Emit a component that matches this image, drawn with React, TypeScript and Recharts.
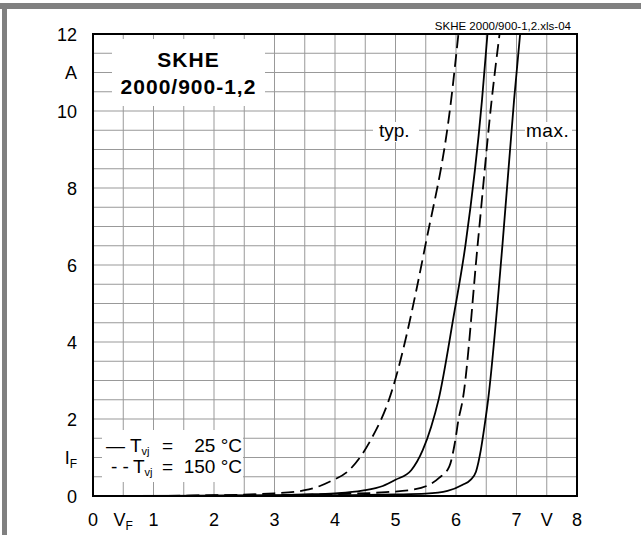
import React from 'react'
import { LineChart, Line, XAxis, YAxis, CartesianGrid, ReferenceArea } from 'recharts'

// grid every 0.5 V / 0.5 A
const gridV = [0, 0.5, 1, 1.5, 2, 2.5, 3, 3.5, 4, 4.5, 5, 5.5, 6, 6.5, 7, 7.5, 8]
const gridI = [0, 0.5, 1, 1.5, 2, 2.5, 3, 3.5, 4, 4.5, 5, 5.5, 6, 6.5, 7, 7.5, 8, 8.5, 9, 9.5, 10, 10.5, 11, 11.5, 12]

// tick labels ("_" = subscript)
const xLabelAt = [0, 0.5, 1, 2, 3, 4, 5, 6, 7, 7.5, 8]
const xLabelText = ['0', 'V_F', '1', '2', '3', '4', '5', '6', '7', 'V', '8']
const yLabelAt = [0, 1, 2, 4, 6, 8, 10, 11, 12]
const yLabelText = ['0', 'I_F', '2', '4', '6', '8', '10', 'A', '12']

// Tvj = 25 °C, typ.
const typ25V = [0.6, 2.0, 3.0, 3.5, 4.0, 4.45, 4.79, 5.0, 5.26, 5.45, 5.59, 5.71, 5.96, 6.16, 6.43, 6.52]
const typ25I = [0, 0.01, 0.02, 0.04, 0.07, 0.14, 0.26, 0.42, 0.67, 1.19, 1.8, 2.49, 4.66, 6.56, 10.29, 12]
// Tvj = 25 °C, max.
const max25V = [0.6, 3.0, 4.0, 5.0, 5.5, 5.86, 6.11, 6.24, 6.33, 6.41, 6.47, 6.53, 6.77, 6.96, 7.06]
const max25I = [0, 0.01, 0.02, 0.04, 0.06, 0.13, 0.29, 0.42, 0.63, 1.19, 1.8, 2.49, 6.56, 10.29, 12]
// Tvj = 150 °C, typ.
const typ150V = [0.6, 2.0, 3.0, 3.5, 3.75, 3.91, 4.24, 4.46, 4.62, 4.87, 5.5, 5.92, 6.04]
const typ150I = [0, 0.02, 0.07, 0.15, 0.26, 0.37, 0.68, 1.11, 1.54, 2.4, 6.56, 10.29, 12]
// Tvj = 150 °C, max.
const max150V = [0.6, 3.0, 4.0, 4.84, 5.31, 5.72, 5.89, 5.98, 6.04, 6.11, 6.36, 6.59, 6.72]
const max150I = [0, 0.02, 0.05, 0.1, 0.17, 0.47, 0.77, 1.37, 1.97, 2.49, 6.56, 10.29, 12]

const zip = (v: number[], i: number[]) => v.map((x, k) => ({ v: x, i: i[k] }))

const FONT = '"Liberation Sans", Arial, sans-serif'

function AxisTick(props: any) {
  const { x, y, payload, at, texts, anchor, dy } = props
  const idx = at.indexOf(payload.value)
  if (idx < 0) return <g />
  const [main, sub] = texts[idx].split('_')
  return (
    <text x={x} y={y} dy={dy} textAnchor={anchor} fontSize={18} fontFamily={FONT} fill="#000">
      {main}
      {sub && <tspan fontSize={12} dy={4}>{sub}</tspan>}
    </text>
  )
}

const abs = (s: React.CSSProperties): React.CSSProperties => ({ position: 'absolute', ...s })
const subStyle: React.CSSProperties = { fontSize: 11, verticalAlign: '-3px', lineHeight: 0 }

export default function App() {
  return (
    <div style={abs({ left: 0, top: 0, width: 641, height: 535, background: '#fff', fontFamily: FONT, color: '#000' })}>
      <div style={abs({ left: 0, top: 3, width: 641, height: 6, background: '#808080' })} />
      <div style={abs({ left: 2, top: 3, width: 5, height: 532, background: '#808080' })} />

      <div style={abs({ left: 0, top: 0 })}>
        <LineChart width={641} height={535} margin={{ top: 34, right: 64, bottom: 9, left: 33 }}>
          <CartesianGrid stroke="#999" strokeWidth={1} />
          <XAxis
            type="number"
            dataKey="v"
            domain={[0, 8]}
            ticks={gridV}
            interval={0}
            height={30}
            axisLine={false}
            tickLine={false}
            tickSize={0}
            tickMargin={17}
            tick={(p: any) => <AxisTick {...p} at={xLabelAt} texts={xLabelText} anchor="middle" dy={13} />}
          />
          <YAxis
            type="number"
            domain={[0, 12]}
            ticks={gridI}
            interval={0}
            width={60}
            axisLine={false}
            tickLine={false}
            tickSize={0}
            tickMargin={16}
            tick={(p: any) => <AxisTick {...p} at={yLabelAt} texts={yLabelText} anchor="end" dy={6.5} />}
          />
          <ReferenceArea x1={0} x2={8} y1={0} y2={12} fill="none" stroke="#000" strokeWidth={2} />
          <Line data={zip(typ25V, typ25I)} dataKey="i" type="monotone" stroke="#000" strokeWidth={1.8} dot={false} isAnimationActive={false} />
          <Line data={zip(max25V, max25I)} dataKey="i" type="monotone" stroke="#000" strokeWidth={1.8} dot={false} isAnimationActive={false} />
          <Line data={zip(typ150V, typ150I)} dataKey="i" type="monotone" stroke="#000" strokeWidth={1.8} strokeDasharray="13 6" dot={false} isAnimationActive={false} />
          <Line data={zip(max150V, max150I)} dataKey="i" type="monotone" stroke="#000" strokeWidth={1.8} strokeDasharray="13 6" dot={false} isAnimationActive={false} />
        </LineChart>
      </div>

      <div style={abs({ right: 70, top: 19.5, fontSize: 11.5, lineHeight: '12px', whiteSpace: 'nowrap' })}>
        SKHE 2000/900-1,2.xls-04
      </div>

      <div style={abs({ left: 112, top: 39, width: 153, height: 67, background: '#fff', textAlign: 'center', fontWeight: 'bold', fontSize: 21, letterSpacing: 1, lineHeight: '27px', paddingTop: 7, boxSizing: 'border-box' })}>
        <div>SKHE</div>
        <div>2000/900-1,2</div>
      </div>

      <div style={abs({ left: 373, top: 122, width: 46, height: 20, background: '#fff' })} />
      <div style={abs({ left: 379, top: 121, fontSize: 19, lineHeight: '20px' })}>typ.</div>
      <div style={abs({ left: 525, top: 122, width: 47, height: 20, background: '#fff' })} />
      <div style={abs({ left: 526, top: 121, fontSize: 19, lineHeight: '20px', letterSpacing: 0.5 })}>max.</div>

      <div style={abs({ left: 102, top: 430, width: 141, height: 52, background: '#fff' })} />
      <div style={abs({ left: 106, top: 436, fontSize: 19, lineHeight: '20px' })}>—</div>
      <div style={abs({ left: 130, top: 436, fontSize: 19, lineHeight: '20px' })}>T<span style={subStyle}>vj</span></div>
      <div style={abs({ left: 162, top: 436, fontSize: 19, lineHeight: '20px' })}>=</div>
      <div style={abs({ right: 641 - 242, top: 436, fontSize: 19, lineHeight: '20px', whiteSpace: 'nowrap' })}>25 °C</div>
      <div style={abs({ left: 111, top: 457, fontSize: 19, lineHeight: '20px', whiteSpace: 'pre' })}>- -</div>
      <div style={abs({ left: 133, top: 457, fontSize: 19, lineHeight: '20px' })}>T<span style={subStyle}>vj</span></div>
      <div style={abs({ left: 162, top: 457, fontSize: 19, lineHeight: '20px' })}>=</div>
      <div style={abs({ right: 641 - 242, top: 457, fontSize: 19, lineHeight: '20px', whiteSpace: 'nowrap' })}>150 °C</div>
    </div>
  )
}
